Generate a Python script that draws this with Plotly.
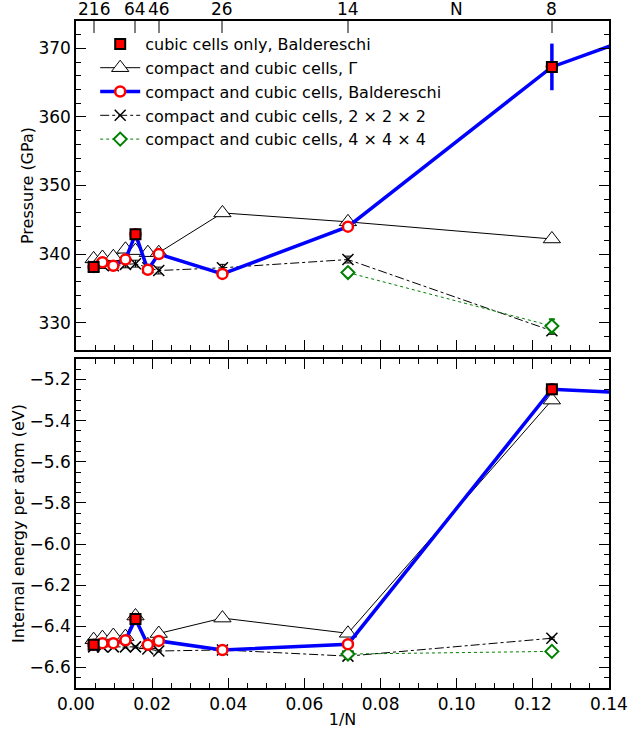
import plotly.graph_objects as go

# ---------------- data ----------------
# cell sizes N (x axis is 1/N)
N_all = [216, 144, 102, 77, 64, 53, 46, 26, 14, 8, 4]
N_cubic = [216, 64, 8]
N_green = [14, 8]

# pressure (GPa)
p_cubic = [338.1, 342.9, 367.3]
p_gamma = [339.3, 339.5, 339.6, 340.7, 340.5, 340.2, 340.2, 346.0, 344.7, 342.2]
p_bald = [338.1, 338.8, 338.3, 339.2, 342.9, 337.7, 340.0, 337.1, 344.0, 367.3, 392.3]
p_bald_err = [0, 0, 0, 0, 0, 0, 0, 0, 0, 3.4, 0]
p_k2 = [338.2, 338.4, 338.3, 338.5, 338.6, 338.0, 337.6, 338.0, 339.2, 328.8]
p_k2_err = [0.5, 0.5, 0.5, 0.5, 0.5, 0.5, 0.5, 0.5, 0.5, 0.5]
p_k4 = [337.3, 329.5]
p_k4_err = [0.5, 1.0]

# internal energy per atom (eV)
e_cubic = [-6.49, -6.365, -5.247]
e_gamma = [-6.465, -6.455, -6.445, -6.45, -6.35, -6.49, -6.435, -6.36, -6.434, -5.30]
e_bald = [-6.49, -6.482, -6.482, -6.468, -6.365, -6.49, -6.471, -6.515, -6.487, -5.247, -5.364]
e_k2 = [-6.50, -6.50, -6.50, -6.50, -6.50, -6.51, -6.52, -6.515, -6.545, -6.458]
e_k4 = [-6.535, -6.522]

top_ticks_N = [216, 64, 46, 26, 14, 8]
top_tick_text = ["216", "64", "46", "26", "14", "8"]

# ---------------- helpers ----------------
inv = lambda ns: [1.0 / n for n in ns]
x_all = inv(N_all)
x_10 = inv(N_all[:10])
x_cubic = inv(N_cubic)
x_green = inv(N_green)

FONT = "DejaVu Sans"
BLUE = "#0000ff"
RED = "#ff0000"
GREEN = "#008000"

fig = go.Figure()

def add_panel(xa, ya, pc, pg, pb, pbe, pk2, pk2e, pk4, pk4e, show):
    # Gamma
    fig.add_trace(go.Scatter(
        x=x_10, y=pg, mode="lines+markers", name="compact and cubic cells, Γ",
        line=dict(color="black", width=1),
        marker=dict(symbol="triangle-up", size=15, color="white",
                    line=dict(color="black", width=1)),
        xaxis=xa, yaxis=ya, showlegend=show, legendrank=2))
    # 2x2x2
    fig.add_trace(go.Scatter(
        x=x_10, y=pk2, mode="lines+markers", name="compact and cubic cells, 2 × 2 × 2",
        line=dict(color="black", width=1, dash="dashdot"),
        marker=dict(symbol="x-thin-open", size=11, color="black",
                    line=dict(color="black", width=1.5)),
        error_y=dict(type="data", array=pk2e, color="black", thickness=1, width=3),
        xaxis=xa, yaxis=ya, showlegend=show, legendrank=4))
    # 4x4x4
    fig.add_trace(go.Scatter(
        x=x_green, y=pk4, mode="lines+markers", name="compact and cubic cells, 4 × 4 × 4",
        line=dict(color=GREEN, width=1, dash="dot"),
        marker=dict(symbol="diamond", size=10, color="white",
                    line=dict(color=GREEN, width=2)),
        error_y=dict(type="data", array=pk4e, color=GREEN, thickness=2, width=3),
        xaxis=xa, yaxis=ya, showlegend=show, legendrank=5))
    # Baldereschi compact + cubic
    fig.add_trace(go.Scatter(
        x=x_all, y=pb, mode="lines+markers", name="compact and cubic cells, Baldereschi",
        line=dict(color=BLUE, width=3.5),
        marker=dict(symbol="circle", size=10, color="white",
                    line=dict(color=RED, width=2.5)),
        error_y=dict(type="data", array=pbe, color=BLUE, thickness=3.5, width=0),
        xaxis=xa, yaxis=ya, showlegend=show, legendrank=3))
    # cubic only
    fig.add_trace(go.Scatter(
        x=x_cubic, y=pc, mode="markers", name="cubic cells only, Baldereschi",
        marker=dict(symbol="square", size=10, color=RED,
                    line=dict(color="black", width=2)),
        xaxis=xa, yaxis=ya, showlegend=show, legendrank=1))

add_panel("x", "y", p_cubic, p_gamma, p_bald, p_bald_err, p_k2, p_k2_err, p_k4, p_k4_err, True)
add_panel("x2", "y2", e_cubic, e_gamma, e_bald, [0] * 11, e_k2, [0.005] * 10, e_k4, [0.004, 0.006], False)

# invisible trace for the top (N) axis
fig.add_trace(go.Scatter(x=[0.0, 0.14], y=[340, 340], mode="markers",
                         marker=dict(opacity=0), xaxis="x3", yaxis="y",
                         showlegend=False, hoverinfo="skip"))

tickfont = dict(family=FONT, size=17, color="black")
titlefont = dict(family=FONT, size=16, color="black")
axis_common = dict(showgrid=False, zeroline=False, showline=True, linecolor="black",
                   linewidth=1.5, ticks="inside", tickcolor="black", tickfont=tickfont,
                   automargin=False)

# top-axis (N) labels as annotations so they sit inside the small top margin
top_annots = [dict(text=t, x=1.0 / n, y=1.0, xref="x3", yref="paper",
                   yanchor="bottom", yshift=0, showarrow=False,
                   font=dict(family=FONT, size=17, color="black"))
              for n, t in zip(top_ticks_N, top_tick_text)]
top_annots.append(dict(text="N", x=0.1, y=1.0, xref="x3", yref="paper",
                       yanchor="bottom", yshift=0, showarrow=False,
                       font=dict(family=FONT, size=17, color="black")))

fig.update_layout(
    width=630, height=729,
    margin=dict(l=76, r=21, t=21, b=41),
    plot_bgcolor="white", paper_bgcolor="white",
    font=dict(family=FONT, size=16, color="black"),
    xaxis=dict(**axis_common, domain=[0, 1], range=[0, 0.14], anchor="y",
               mirror=True, ticklen=10, dtick=0.02, showticklabels=False,
               minor=dict(ticks="inside", ticklen=5, dtick=0.005, tickcolor="black")),
    yaxis=dict(**axis_common, domain=[0.5067, 1.0], range=[326, 374], anchor="x",
               mirror="ticks", ticklen=10, dtick=10, tickformat="d",
               minor=dict(ticks="inside", ticklen=5, dtick=2, tickcolor="black"),
               title=dict(text="Pressure (GPa)", font=titlefont, standoff=1)),
    xaxis2=dict(**axis_common, domain=[0, 1], range=[0, 0.14], anchor="y2",
                mirror="ticks", ticklen=10, dtick=0.02, tickformat=".2f",
                minor=dict(ticks="inside", ticklen=5, dtick=0.005, tickcolor="black"),
                title=dict(text="1/N", font=titlefont, standoff=4)),
    yaxis2=dict(**axis_common, domain=[0, 0.4933], range=[-6.7, -5.1], anchor="x2",
                mirror="ticks", ticklen=10, dtick=0.2, tickformat=".1f",
                minor=dict(ticks="inside", ticklen=5, dtick=0.05, tickcolor="black"),
                title=dict(text="Internal energy per atom (eV)", font=titlefont, standoff=1)),
    xaxis3=dict(overlaying="x", side="top", anchor="y", range=[0, 0.14],
                showgrid=False, zeroline=False, showline=False, automargin=False,
                tickmode="array", tickvals=inv(top_ticks_N), showticklabels=False,
                ticks="inside", ticklen=12, tickcolor="#808080", tickwidth=1.5),
    legend=dict(x=0.036, y=0.991, xanchor="left", yanchor="top",
                bgcolor="rgba(0,0,0,0)", font=dict(family=FONT, size=16),
                tracegroupgap=0, itemwidth=40),
    annotations=top_annots,
)

fig.write_html("out.html")
